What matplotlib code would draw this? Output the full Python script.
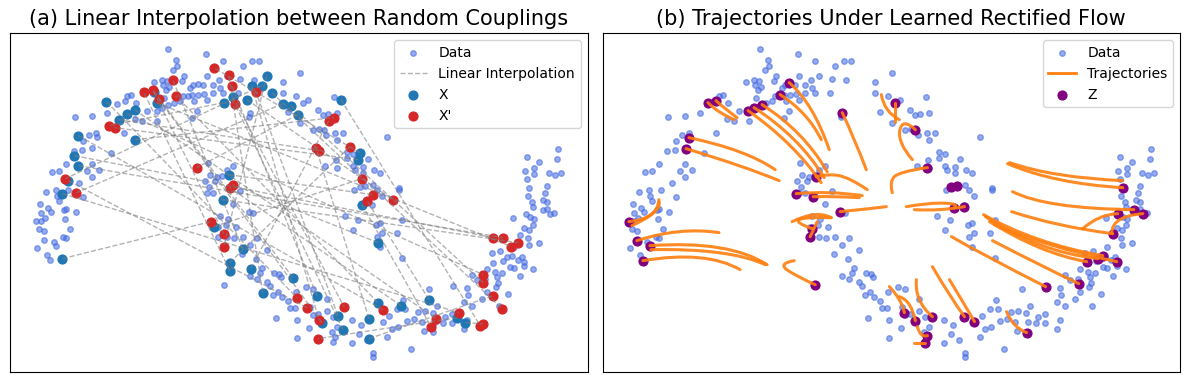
import numpy as np
import matplotlib
matplotlib.use("Agg")
import matplotlib.pyplot as plt
from matplotlib.path import Path
from matplotlib.patches import PathPatch
from matplotlib.lines import Line2D

# two-moons samples
data_xy = np.array([
    (-0.82, 1.51), (-0.74, 1.40), (-0.73, 1.34), (-0.77, 1.30), (-0.66, 1.24), (-0.44, 1.46),
    (-0.96, 1.18), (-0.88, 1.20), (-0.83, 1.19), (-0.87, 1.15), (-0.81, 1.13), (-0.84, 1.10),
    (-0.68, 1.19), (-0.60, 1.12), (-0.57, 1.15), (-0.52, 1.16), (-0.47, 1.15), (-0.58, 1.05),
    (-0.52, 1.05), (-0.46, 1.06), (-0.62, 1.04), (-0.67, 1.04), (-0.56, 0.99), (-0.70, 0.99),
    (-0.76, 0.97), (-0.82, 0.95), (-0.86, 1.02), (-0.88, 0.92), (-0.93, 0.89), (-1.03, 0.89),
    (-1.08, 0.79), (-0.93, 0.79), (-1.14, 0.97), (-1.19, 1.05), (-1.23, 1.04), (-1.25, 0.99),
    (-1.33, 0.96), (-1.42, 0.87), (-1.57, 0.84), (-1.74, 0.83), (-0.53, 0.89), (-0.58, 0.82),
    (-1.15, 0.81), (-1.26, 0.67), (-1.53, 0.67), (-1.52, 0.63), (-1.60, 0.65), (-1.66, 0.59),
    (-1.57, 0.52), (-1.38, 0.47), (-1.67, 0.50), (-1.75, 0.49), (-1.83, 0.36), (-1.57, 0.36),
    (-1.50, 0.30), (-1.62, 0.29), (-1.57, 0.23), (-1.70, 0.17), (-1.90, 0.29), (-1.97, 0.28),
    (-1.93, 0.10), (-2.03, 0.08), (-1.92, 0.04), (-1.81, 0.10), (-1.66, 0.03), (-0.42, 0.37),
    (-0.45, 0.19), (-0.43, 0.07),
    (-0.27, 1.39), (0.02, 1.39), (0.09, 1.39), (-0.07, 1.34), (0.50, 1.27), (-0.43, 1.24),
    (-0.31, 1.20), (-0.23, 1.24), (-0.10, 1.21), (0.04, 1.20), (-0.37, 1.15), (-0.30, 1.12),
    (-0.37, 1.07), (-0.27, 1.07), (-0.43, 1.00), (-0.12, 1.07), (0.33, 1.18), (0.33, 1.07),
    (0.46, 1.04), (0.58, 1.00), (0.53, 0.97), (0.38, 0.88), (0.68, 0.90), (0.73, 0.85),
    (0.78, 0.86), (0.87, 0.87), (0.84, 1.03), (0.50, 0.77), (0.63, 0.70), (0.69, 0.71),
    (0.74, 0.70), (0.76, 0.65), (0.85, 0.67), (0.93, 0.67), (0.87, 0.60), (1.37, 0.63),
    (0.97, 0.48), (0.97, 0.42), (1.03, 0.46), (0.86, 0.40), (0.75, 0.34), (0.87, 0.32),
    (1.03, 0.34), (1.13, 0.33), (1.18, 0.41), (1.24, 0.30), (1.30, 0.27), (1.05, 0.30),
    (1.13, 0.27), (1.10, 0.13), (1.15, 0.14), (1.23, 0.15), (1.27, 0.10), (1.49, 0.10),
    (1.04, 0.10), (1.32, 0.04), (0.00, 0.87), (-0.01, 0.83), (-0.17, 0.34), (-0.40, 0.25),
    (-0.33, 0.23), (-0.28, 0.24), (-0.23, 0.30), (-0.35, 0.19), (-0.41, 0.13), (-0.10, 0.09),
    (-0.37, 0.07),
    (-1.90, -0.01), (-2.09, -0.04), (-2.01, -0.08), (-1.98, -0.12), (-2.08, -0.13), (-2.04, -0.18),
    (-2.13, -0.21), (-2.08, -0.21), (-1.85, -0.10), (-1.83, -0.09), (-1.73, -0.12), (-1.84, -0.19),
    (-2.10, -0.29), (-2.05, -0.31), (-1.79, -0.29), (-1.86, -0.37), (-1.83, -0.38), (-2.05, -0.40),
    (-1.95, -0.42), (-1.93, -0.46), (-2.12, -0.48), (-2.02, -0.55), (-1.99, -0.60),
    (-0.17, -0.04), (-0.30, -0.16), (-0.22, -0.19), (-0.24, -0.25), (-0.32, -0.27), (-0.14, -0.27),
    (-0.32, -0.37), (-0.23, -0.37), (-0.16, -0.38), (-0.07, -0.37), (0.00, -0.45), (0.07, -0.38),
    (0.17, -0.50), (-0.08, -0.54), (-0.01, -0.12), (0.03, -0.13), (0.06, -0.59), (0.12, -0.68),
    (0.10, -0.73), (0.00, -0.76), (0.07, -0.79), (0.17, -0.82), (0.24, -0.73), (0.29, -0.74),
    (0.31, -0.77), (0.20, -0.86), (-0.26, -0.85), (0.23, -0.95), (0.28, -0.92), (0.32, -0.97),
    (0.38, -1.01), (0.46, -0.92), (0.56, -0.87), (0.63, -0.89), (0.77, -0.99), (0.40, -1.08),
    (0.45, -1.08), (0.60, -1.07), (0.63, -1.15), (0.77, -1.11), (0.68, -1.14), (0.47, -1.20),
    (0.26, -1.18), (0.59, -1.28), (0.47, -1.38), (0.83, -1.17), (0.87, -1.27), (0.82, -1.32),
    (0.85, -1.37), (0.83, -1.42), (1.02, -1.20), (1.11, -1.25), (1.02, -1.43), (1.09, -1.34),
    (1.17, -1.40), (1.23, -1.53), (1.23, -1.57), (1.33, -1.22), (1.39, -1.16), (1.42, -1.29),
    (1.37, -1.37), (1.48, -1.27), (0.95, -0.16), (1.03, -0.30), (1.08, -0.20), (1.26, -0.25),
    (1.30, -0.23), (1.22, -0.05), (1.32, -0.33), (1.27, -0.37), (1.30, -0.47),
    (1.49, 0.12), (1.52, -0.20), (1.47, -0.33), (1.52, -0.58), (3.08, 0.51), (2.77, 0.43),
    (2.89, 0.38), (2.84, 0.32), (2.75, 0.29), (2.84, 0.26), (3.07, 0.41), (2.99, 0.27),
    (3.05, 0.25), (3.11, 0.27), (2.77, 0.21), (2.97, 0.14), (2.79, 0.12), (2.95, 0.07),
    (2.78, 0.04), (2.93, 0.00), (2.97, -0.02), (2.82, -0.02), (2.83, -0.07), (2.93, -0.10),
    (3.00, -0.14), (3.04, -0.13), (2.97, -0.09), (2.76, -0.14), (2.80, -0.17), (2.84, -0.19),
    (2.63, -0.18), (2.83, -0.25), (2.74, -0.28), (2.79, -0.30), (2.70, -0.35), (2.78, -0.38),
    (2.89, -0.43), (2.79, -0.45), (2.64, -0.47), (2.42, -0.53), (2.50, -0.51), (2.57, -0.57),
    (2.62, -0.56), (2.72, -0.57), (2.68, -0.60), (2.74, -0.62), (2.53, -0.61), (2.43, -0.63),
    (2.37, -0.69), (2.60, -0.67), (2.64, -0.68), (2.74, -0.66), (2.83, -0.69), (2.45, -0.72),
    (2.52, -0.73), (2.47, -0.77), (2.70, -0.76), (2.22, -0.75), (2.27, -0.80), (2.35, -0.79),
    (2.48, -0.83), (2.46, -0.87), (2.17, -0.88), (2.03, -0.86), (2.37, -0.92), (2.58, -0.94),
    (2.18, -0.95), (2.32, -0.99), (2.14, -1.02), (2.22, -1.06), (2.49, -1.06), (1.79, -0.89),
    (1.53, -1.00), (1.55, -1.09), (1.47, -1.09), (1.87, -1.06), (1.68, -1.12), (1.75, -1.11),
    (1.83, -1.13), (1.95, -1.17), (2.02, -1.14), (1.57, -1.21), (1.64, -1.19), (1.72, -1.22),
    (1.85, -1.22), (1.93, -1.23), (2.02, -1.23), (2.17, -1.20), (2.14, -1.29), (1.74, -1.31),
    (1.83, -1.32), (1.61, -1.49),
])

# random coupling: X[i] is paired with X_prime[i]
X = np.array([
    (-1.43, 0.98), (-1.15, 0.90), (-1.23, 0.86), (-1.31, 0.80), (-1.71, 0.64), (-1.75, 0.44),
    (-1.71, 0.34), (-1.81, 0.19), (-1.87, 0.06), (-1.15, 0.60), (-0.96, 1.08), (-0.93, 0.97),
    (0.17, 1.24), (0.02, 1.14), (0.12, 1.14), (0.22, 1.07), (-0.17, 1.03), (-0.26, 0.97),
    (-0.03, 1.00), (0.33, 0.96), (0.41, 0.94), (0.48, 0.85), (0.91, 1.00), (1.10, 0.47),
    (1.08, 0.40), (-0.21, 0.25), (-0.27, 0.00), (-1.87, -0.59), (-0.36, -0.27), (-0.07, -0.49),
    (-0.20, -0.63), (-0.20, -0.71), (0.01, -0.69), (0.13, -0.93), (0.43, -0.78), (0.67, -0.96),
    (0.88, -1.16), (0.72, -1.23), (0.93, -1.30), (1.19, -1.19), (1.28, -1.03), (1.19, -1.39),
    (1.28, -0.43), (1.12, -0.05), (1.51, -1.06), (1.79, -1.00), (2.07, -1.18), (2.15, -1.23),
])
X_prime = np.array([
    (0.47, -0.98), (1.86, -1.19), (2.33, -0.75), (0.69, 0.49), (1.33, -1.10), (2.43, -0.38),
    (2.53, -0.38), (0.57, -1.08), (2.09, -1.13), (0.84, 0.82), (-0.26, -0.34), (2.61, -0.47),
    (-0.26, -0.47), (0.69, -1.20), (-1.84, 0.21), (2.52, -1.09), (0.94, -1.07), (-1.40, 0.74),
    (1.43, 0.00), (-1.73, 0.07), (2.33, -0.83), (-0.53, 0.32), (2.30, -1.26), (-0.36, 1.32),
    (-1.35, 0.72), (1.23, 0.05), (2.68, -0.43), (-0.39, -0.22), (1.12, 0.21), (-0.77, 1.20),
    (1.00, 0.53), (-1.06, 1.08), (0.79, 0.79), (-0.21, 1.25), (-0.97, 1.10), (-0.18, 1.14),
    (0.06, 1.08), (-0.91, 1.01), (-0.15, 0.96), (0.66, 0.52), (-0.74, 1.04), (2.43, -0.96),
    (-0.17, 0.15), (1.81, -1.27), (-0.20, 0.12), (1.17, -0.01), (0.68, -1.39), (2.33, -1.24),
])

# generated samples at the end of the learned flow
Z = np.array([
    (-1.34, 0.97), (-1.26, 0.99), (-1.53, 0.62), (-1.56, 0.51), (-0.94, 0.89), (-0.88, 0.92),
    (-0.80, 0.95), (-0.62, 1.05), (-0.53, 1.17), (-0.46, 0.06), (0.00, 0.87), (0.53, 0.97),
    (0.73, 0.70), (0.85, 0.32), (-0.26, 0.23), (-0.29, 0.03), (1.09, 0.13), (1.15, 0.14),
    (-2.13, -0.22), (-2.05, -0.41), (-1.92, -0.46), (-1.99, -0.61), (-0.02, -0.12), (-0.30, -0.29),
    (-0.32, -0.37), (-0.27, -0.85), (1.12, -0.08), (1.22, -0.07), (0.62, -1.13), (0.73, -1.21),
    (0.90, -1.17), (0.85, -1.36), (0.83, -1.43), (1.22, -1.17), (1.32, -1.22), (2.80, 0.12),
    (2.91, -0.10), (3.00, -0.14), (2.75, -0.14), (2.70, -0.34), (2.60, -0.56), (2.55, -0.59),
    (2.44, -0.62), (2.74, -0.62), (2.36, -0.84), (2.03, -0.87), (1.84, -1.33),
])

# flow trajectories, each from its starting point to its Z
trajectories = [
    [(-0.67, 0.30), (-1.03, 0.48), (-1.53, 0.62)],
    [(-0.63, 0.19), (-1.03, 0.34), (-1.56, 0.51)],
    [(-1.08, 0.80), (-1.23, 0.88), (-1.34, 0.97)],
    [(-1.05, 0.82), (-1.18, 0.92), (-1.26, 0.99)],
    [(-0.21, 0.17), (-0.53, 0.55), (-0.94, 0.89)],
    [(-0.18, 0.22), (-0.48, 0.60), (-0.88, 0.92)],
    [(-0.15, 0.28), (-0.43, 0.65), (-0.80, 0.95)],
    [(-0.21, 0.60), (-0.38, 0.85), (-0.62, 1.05)],
    [(-0.13, 0.50), (-0.31, 0.90), (-0.53, 1.17)],
    [(0.24, 0.30), (0.12, 0.60), (0.00, 0.87)],
    [(0.70, 0.40), (0.55, 0.57), (0.60, 0.82), (0.73, 0.70)],
    [(0.39, 1.05), (0.45, 0.90), (0.57, 0.80)],
    [(0.53, 0.78), (0.53, 0.97)],
    [(0.50, 0.07), (0.47, 0.18), (0.57, 0.28), (0.85, 0.32)],
    [(0.25, 0.10), (0.07, 0.22), (-0.13, 0.26), (-0.26, 0.23)],
    [(0.20, 0.04), (-0.13, 0.07), (-0.46, 0.06)],
    [(0.17, 0.02), (-0.08, 0.03), (-0.29, 0.03)],
    [(0.44, -0.07), (0.27, -0.09), (-0.02, -0.12)],
    [(-0.50, -0.22), (-0.28, -0.15), (-0.11, -0.18)],
    [(-0.11, -0.18), (-0.43, -0.20), (-0.30, -0.29)],
    [(-0.25, -0.22), (-0.32, -0.37)],
    [(0.64, -0.07), (0.87, -0.03), (1.17, -0.04), (1.12, -0.08)],
    [(0.72, -0.10), (0.97, -0.10), (1.22, -0.07)],
    [(1.09, -0.37), (1.47, -0.58), (2.03, -0.87)],
    [(-0.48, -0.61), (-0.65, -0.64), (-0.43, -0.78), (-0.27, -0.85)],
    [(0.47, -0.87), (0.57, -1.00), (0.62, -1.13)],
    [(0.57, -0.97), (0.67, -1.05), (0.73, -1.21)],
    [(0.74, -0.80), (0.77, -1.00), (0.90, -1.17)],
    [(0.75, -1.27), (0.79, -1.35), (0.85, -1.36)],
    [(0.72, -1.43), (0.83, -1.43)],
    [(0.90, -0.67), (1.07, -0.95), (1.22, -1.17)],
    [(1.07, -0.80), (1.19, -1.00), (1.32, -1.22)],
    [(1.65, 0.36), (2.17, 0.20), (2.80, 0.12)],
    [(1.67, 0.37), (2.17, 0.25), (2.80, 0.19)],
    [(1.70, 0.08), (2.17, -0.05), (2.91, -0.10)],
    [(1.69, -0.12), (2.17, -0.25), (2.70, -0.34)],
    [(2.40, -0.29), (2.57, -0.18), (2.75, -0.14)],
    [(2.69, -0.33), (2.77, -0.20), (3.00, -0.14)],
    [(1.41, -0.15), (1.97, -0.40), (2.60, -0.56)],
    [(1.43, -0.17), (1.97, -0.45), (2.55, -0.59)],
    [(1.47, -0.22), (1.97, -0.48), (2.44, -0.62)],
    [(1.52, -0.25), (2.07, -0.45), (2.74, -0.62)],
    [(1.50, -0.41), (1.97, -0.65), (2.36, -0.84)],
    [(1.64, -1.12), (1.72, -1.25), (1.84, -1.33)],
    [(-1.83, 0.00), (-1.91, -0.15), (-2.13, -0.22)],
    [(-2.10, -0.26), (-1.88, -0.13), (-1.83, -0.02)],
    [(-1.23, -0.33), (-1.63, -0.32), (-2.05, -0.41)],
    [(-0.75, -0.65), (-1.23, -0.48), (-1.92, -0.46)],
    [(-0.77, -0.65), (-1.23, -0.53), (-1.91, -0.50)],
    [(-1.02, -0.70), (-1.43, -0.58), (-1.99, -0.61)],
]


def smooth_path(points):
    # quadratic bezier pieces so the trajectory reads as a curve, not a polyline
    pts = np.asarray(points, dtype=float)
    if len(pts) == 2:
        return Path(pts)
    if len(pts) == 3:
        ctrl = 2 * pts[1] - (pts[0] + pts[2]) / 2
        return Path([pts[0], ctrl, pts[2]], [Path.MOVETO, Path.CURVE3, Path.CURVE3])
    verts, codes = [pts[0]], [Path.MOVETO]
    for i in range(1, len(pts) - 1):
        end = pts[i + 1] if i == len(pts) - 2 else (pts[i] + pts[i + 1]) / 2
        verts += [pts[i], end]
        codes += [Path.CURVE3, Path.CURVE3]
    return Path(verts, codes)


fig, (ax1, ax2) = plt.subplots(1, 2, figsize=(11.89, 3.82), dpi=100)
fig.subplots_adjust(left=0.0085, right=0.9925, bottom=0.026, top=0.913, wspace=0.026)

# (a) random couplings
ax1.scatter(data_xy[:, 0], data_xy[:, 1], s=16, color='royalblue', alpha=0.55, label='Data')
for i in range(len(X)):
    ax1.plot([X[i, 0], X_prime[i, 0]], [X[i, 1], X_prime[i, 1]], color='gray', linestyle='--',
             linewidth=1, alpha=0.6, label='Linear Interpolation' if i == 0 else None)
ax1.scatter(X[:, 0], X[:, 1], s=40, color='tab:blue', label='X')
ax1.scatter(X_prime[:, 0], X_prime[:, 1], s=40, color='tab:red', label="X'")
ax1.set_title('(a) Linear Interpolation between Random Couplings', fontsize=15)
ax1.legend(loc='upper right', fontsize=10)

# (b) learned rectified flow
data_h = ax2.scatter(data_xy[:, 0], data_xy[:, 1], s=16, color='royalblue', alpha=0.55)
for traj in trajectories:
    ax2.add_patch(PathPatch(smooth_path(traj), fill=False, edgecolor='tab:orange',
                            linewidth=2.2, alpha=0.9, capstyle='round', joinstyle='round',
                            zorder=2))
z_h = ax2.scatter(Z[:, 0], Z[:, 1], s=40, color='purple')
traj_h = Line2D([], [], color='tab:orange', linewidth=2)
ax2.set_title('(b) Trajectories Under Learned Rectified Flow', fontsize=15)
ax2.legend([data_h, traj_h, z_h], ['Data', 'Trajectories', 'Z'], loc='upper right', fontsize=10)

for ax in (ax1, ax2):
    ax.set_xticks([])
    ax.set_yticks([])

plt.savefig('out.png', dpi=100)
